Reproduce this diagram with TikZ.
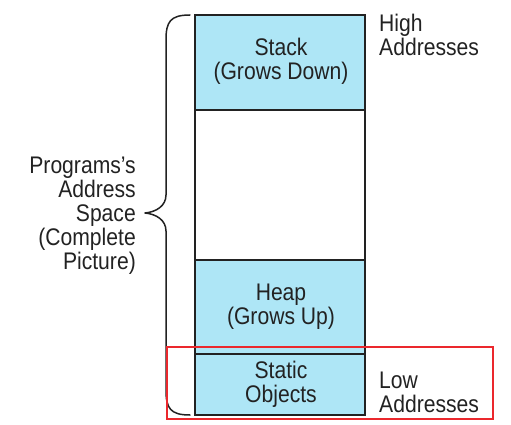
\documentclass[tikz,border=0pt]{standalone}
\usepackage{fontspec}
\setmainfont[FakeStretch=0.88]{Liberation Sans}
\definecolor{memblue}{HTML}{AEE6F6}
\definecolor{ink}{HTML}{222222}
\definecolor{hlred}{RGB}{235,40,45}
\tikzset{
  seg/.style={draw=ink, line width=1.8pt, fill=memblue},
  emptyseg/.style={draw=ink, line width=1.8pt, fill=white},
  lbl/.style={text=ink, font=\fontsize{24}{24}\selectfont, align=center, inner sep=0pt},
  side/.style={text=ink, font=\fontsize{24}{24}\selectfont, align=left, inner sep=0pt, anchor=north west},
  brace/.style={draw=ink, line width=1.5pt, line cap=round, line join=round},
  highlight/.style={draw=hlred, line width=1.1pt}
}
\begin{document}
\begin{tikzpicture}[x=1pt,y=-1pt]
\useasboundingbox (0,0) rectangle (511,425);
% segments
\path[seg] (195,15) rectangle (365,110);
\path[emptyseg] (195,110) rectangle (365,260);
\path[seg] (195,260) rectangle (365,354);
\path[seg] (195,354) rectangle (365,415);
\node[lbl] (stack) at (281,61) {Stack\\(Grows Down)};
\node[lbl] (heap) at (281,307) {Heap\\(Grows Up)};
\node[lbl] (static) at (281,384) {Static\\Objects};
% side labels
\node[side] (high) at (379,14) {High\\Addresses};
\node[side] (low) at (379,372) {Low\\Addresses};
\node[lbl, align=right, anchor=east] (space) at (136,216) {Programs's\\Address\\Space\\(Complete\\Picture)};
% brace
\coordinate (btop) at (190,15);
\coordinate (bbot) at (190,415);
\coordinate (btip) at (145,213);
\draw[brace] (btop) .. controls (170,15) and (166,22) .. (166,40)
  -- (166,195) .. controls (166,206) and (156,212) .. (btip)
  .. controls (156,214) and (166,220) .. (166,231)
  -- (166,390) .. controls (166,408) and (170,415) .. (bbot);
% highlight box
\begin{scope}[color=hlred]
\draw[highlight] (167,347) rectangle (493,419);
\end{scope}
\end{tikzpicture}
\end{document}
